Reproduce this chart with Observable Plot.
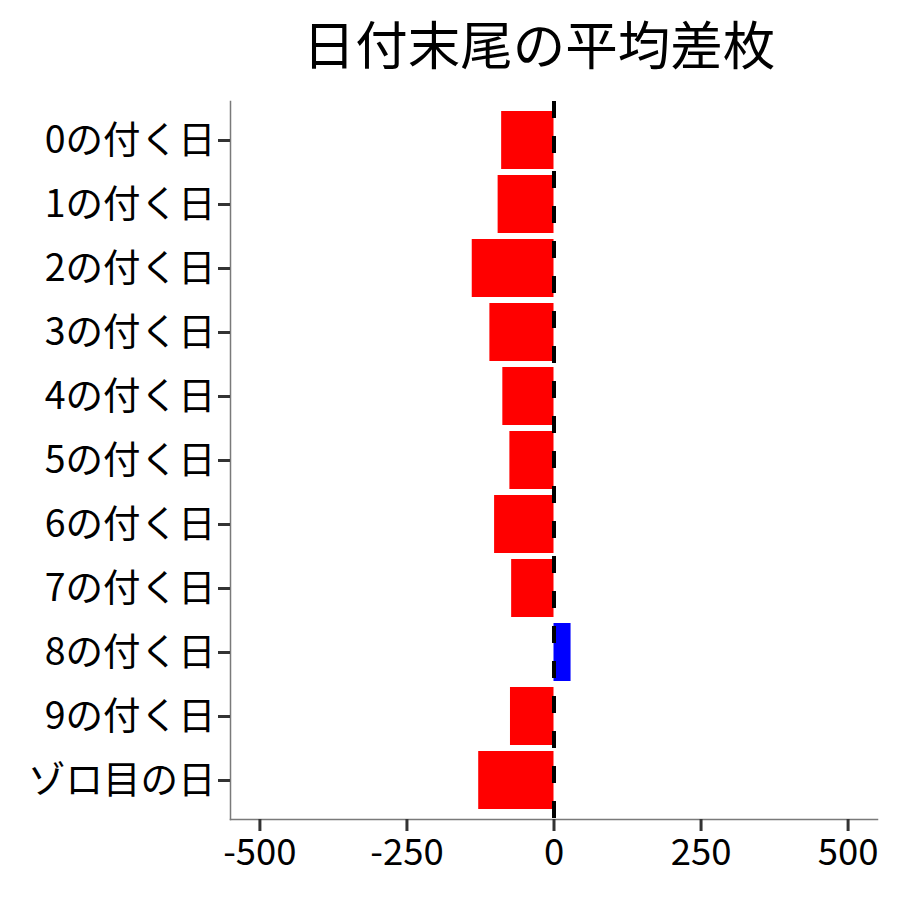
<!DOCTYPE html>
<html>
<head>
<meta charset="utf-8">
<script src="https://cdn.jsdelivr.net/npm/d3@7"></script>
<script src="https://cdn.jsdelivr.net/npm/@observablehq/plot@0.6"></script>
<style>
  html, body { margin: 0; padding: 0; background: #fff; }
  #wrap { position: relative; width: 900px; height: 900px; font-family: "Noto Sans CJK JP", sans-serif; }
  #title { position: absolute; left: 0; top: 0; width: 900px; height: 90px; }
  #title span { position: absolute; left: 539px; top: 42px; transform: translate(-50%, -50%); font-size: 52.5px; line-height: 1; color: #000; white-space: nowrap; }
  #chart { position: absolute; left: 0; top: 90px; }
</style>
</head>
<body>
<div id="wrap">
  <div id="title"><span>日付末尾の平均差枚</span></div>
  <div id="chart"></div>
</div>
<script>
const categories = ["0の付く日", "1の付く日", "2の付く日", "3の付く日", "4の付く日", "5の付く日", "6の付く日", "7の付く日", "8の付く日", "9の付く日", "ゾロ目の日"];
const values = [-89, -95, -139, -109, -87, -75, -101, -72, 29, -74, -128];
const xTicks = [-500, -250, 0, 250, 500];

const data = categories.map((c, i) => ({label: c, value: values[i]}));

const chart = Plot.plot({
  width: 900,
  height: 810,
  marginLeft: 230,
  marginRight: 23,
  marginTop: 11,
  marginBottom: 81,
  style: {fontFamily: '"Noto Sans CJK JP", sans-serif', background: "#fff"},
  x: {domain: [-550, 550]},
  y: {domain: categories, paddingInner: 0.1, paddingOuter: 0.15},
  color: {type: "identity"},
  marks: [
    Plot.barX(data, {x: "value", y: "label", fill: d => d.value >= 0 ? "#0000FF" : "#FF0000"}),
    Plot.ruleX([0], {stroke: "#000", strokeWidth: 4, strokeDasharray: "17,18"}),
    Plot.frame({anchor: "bottom", stroke: "#7a7a7a", strokeWidth: 1.5}),
    Plot.frame({anchor: "left", stroke: "#7a7a7a", strokeWidth: 1.5}),
    Plot.axisX({ticks: xTicks, tickFormat: d => String(d), tickSize: 12, tickPadding: 8, fontSize: 36.5, stroke: "#333", strokeWidth: 3, fill: "#000", label: null}),
    Plot.axisY({tickSize: 12, tickPadding: 3, fontSize: 37.5, stroke: "#333", strokeWidth: 3, fill: "#000", label: null})
  ]
});
document.getElementById("chart").appendChild(chart);
</script>
</body>
</html>
